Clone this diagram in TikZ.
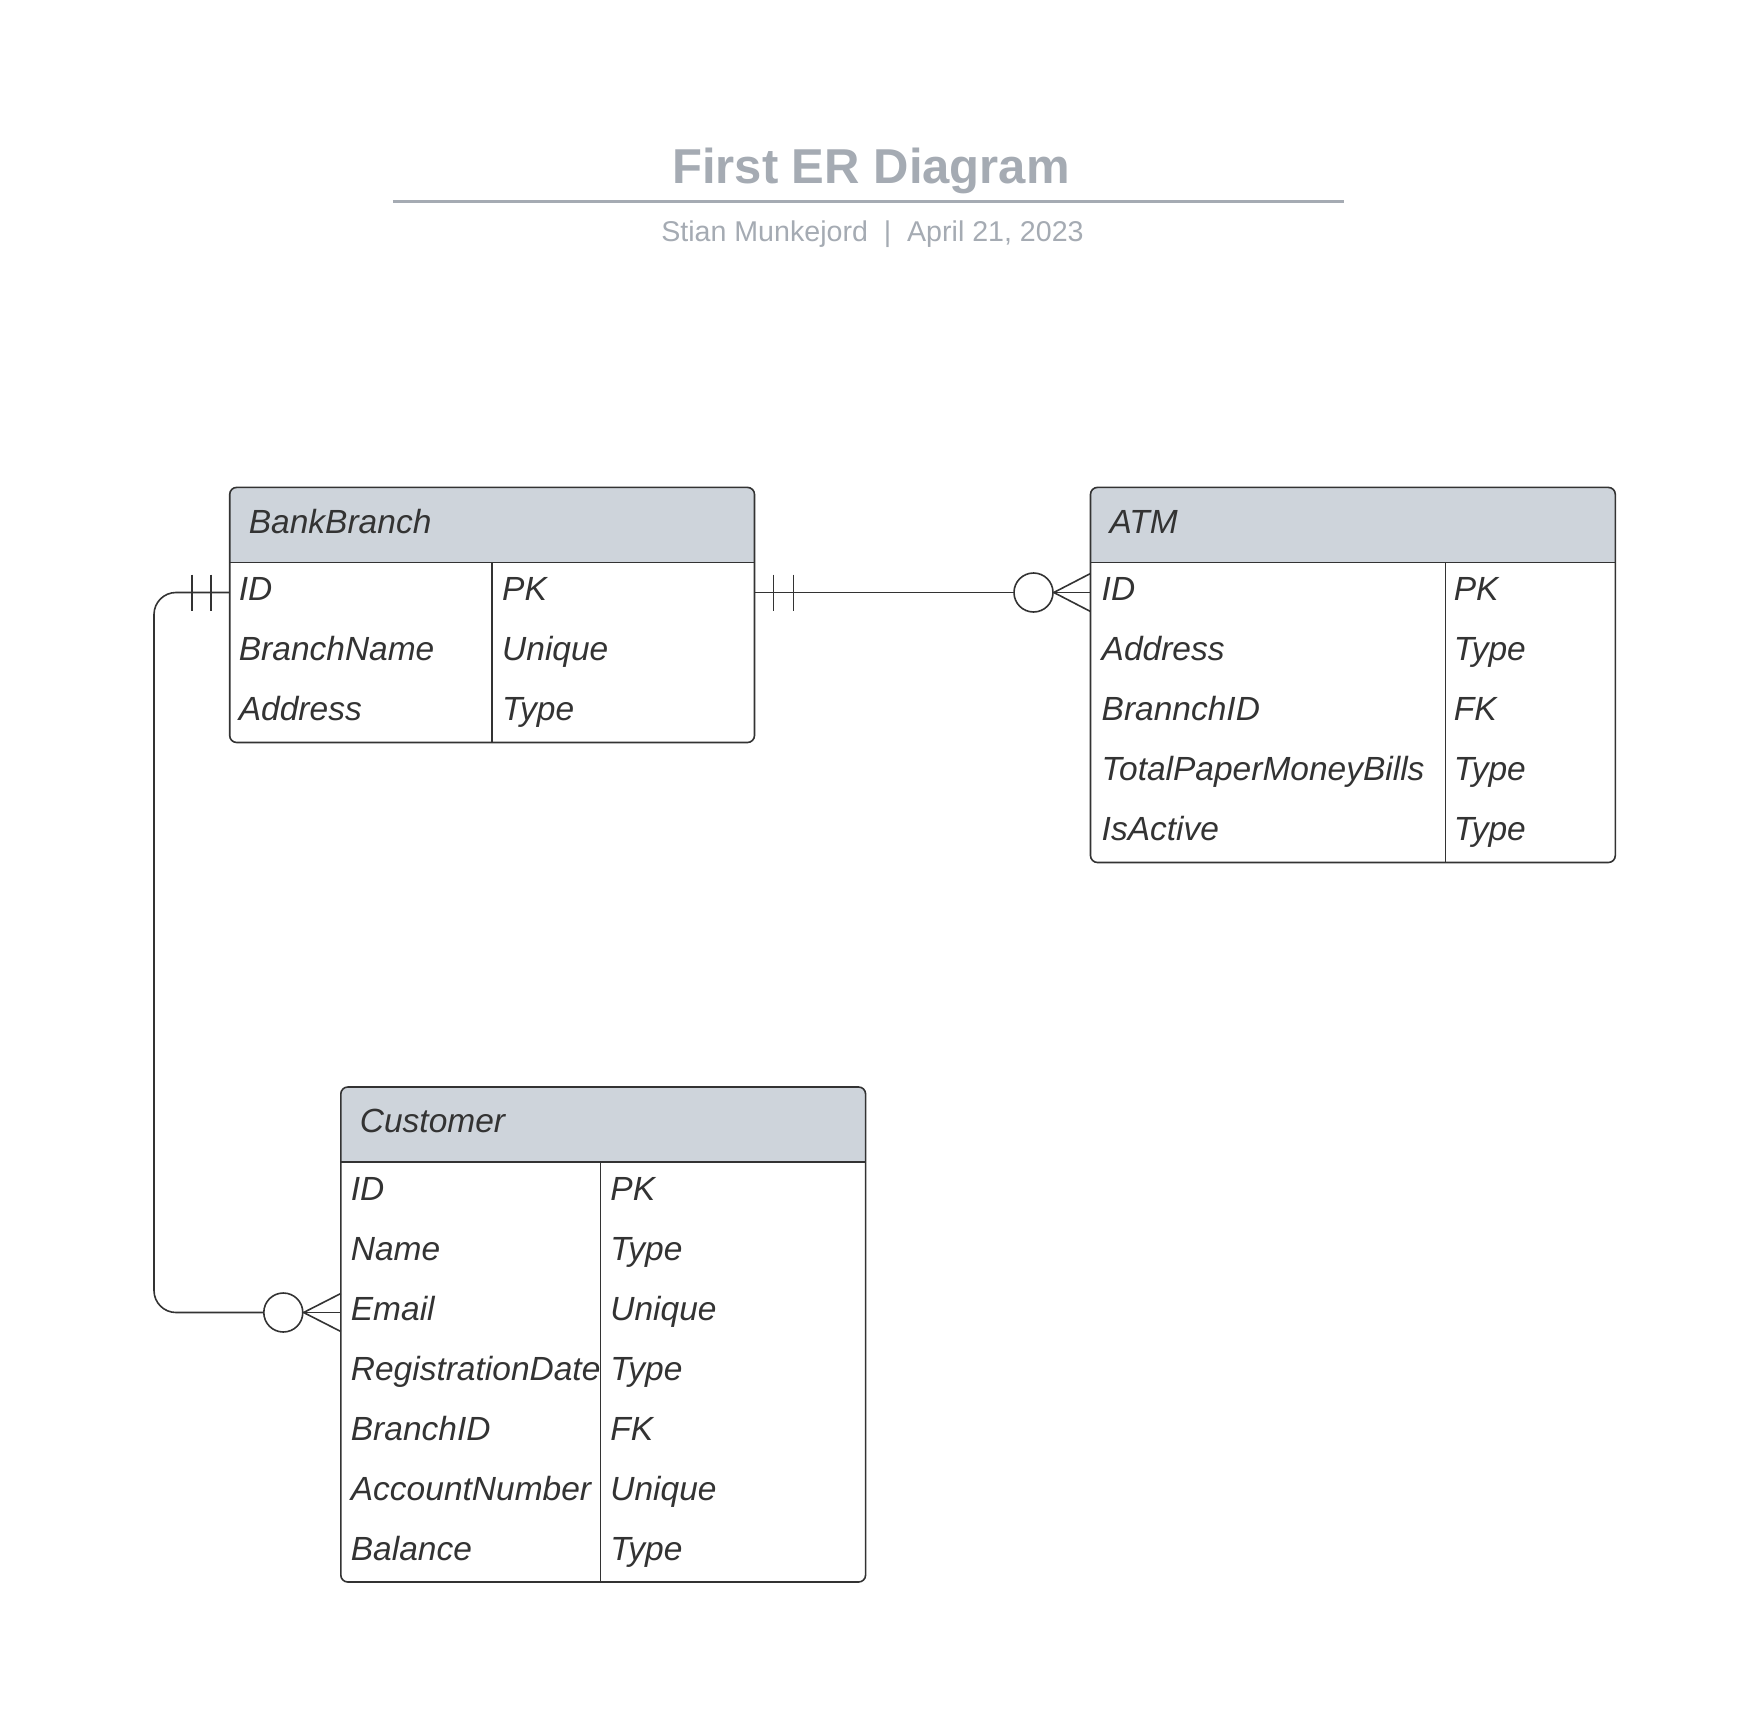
\documentclass[tikz,border=0pt]{standalone}
\usepackage{fontspec}
\setmainfont{Liberation Sans}
\usetikzlibrary{calc}
\definecolor{txtc}{HTML}{333333}
\definecolor{hdrc}{HTML}{CED4DB}
\definecolor{ttlc}{HTML}{A5ABB3}
\definecolor{lnc}{HTML}{333333}
\begin{document}
\begin{tikzpicture}[x=1pt,y=-1pt,
  tbl/.style={draw=lnc, line width=1.6pt, rounded corners=7pt, inner sep=0pt, outer sep=0pt, minimum width=524.8pt},
  tline/.style={draw=lnc, line width=1.6pt},
  conn/.style={draw=lnc, line width=1.6pt},
  hd/.style={anchor=base west, inner sep=0pt, text=txtc, font=\fontsize{33.5}{40}\selectfont\itshape},
  fld/.style={anchor=base west, inner sep=0pt, text=txtc, font=\fontsize{33.5}{40}\selectfont\itshape},
  hdrfill/.style={fill=hdrc}
]
\useasboundingbox[fill=white] (0,0) rectangle (1757,1731);

% Title
\node[anchor=base, inner sep=0pt, text=ttlc, font=\fontsize{49}{56}\selectfont\bfseries] (title) at (871,183.5) {First ER Diagram};
\draw[draw=ttlc, line width=3.4pt] (392.8,201.7) coordinate (tl1) -- (1344,201.7) coordinate (tl2);
\node[anchor=base, inner sep=0pt, text=ttlc, font=\fontsize{28.6}{34}\selectfont] (subtitle) at (872.5,242) {Stian Munkejord\ \ |\ \ April 21, 2023};

% BankBranch
\fill[hdrfill] (229.7,562.5) [rounded corners=7pt] -- (229.7,487.4) -- (754.5,487.4) [sharp corners] -- (754.5,562.5) -- cycle;
\node[tbl, minimum height=255.1pt, anchor=north west] (bb) at (229.7,487.4) {};
\draw[tline] (229.7,562.5) -- (754.5,562.5);
\draw[tline] (491.9,562.5) -- (491.9,742.5);
\node[hd] (bbh) at (248.7,533) {BankBranch};
\node[fld] (bb1a) at (238.7,600.5) {ID};
\node[fld] (bb1b) at (502,600.5) {PK};
\node[fld] (bb2a) at (238.7,660.5) {BranchName};
\node[fld] (bb2b) at (502,660.5) {Unique};
\node[fld] (bb3a) at (238.7,720.5) {Address};
\node[fld] (bb3b) at (502,720.5) {Type};

% ATM
\fill[hdrfill] (1090.5,562.5) [rounded corners=7pt] -- (1090.5,487.4) -- (1615.3,487.4) [sharp corners] -- (1615.3,562.5) -- cycle;
\node[tbl, minimum height=375.1pt, anchor=north west] (atm) at (1090.5,487.4) {};
\draw[tline] (1090.5,562.5) -- (1615.3,562.5);
\draw[tline] (1445.4,562.5) -- (1445.4,862.5);
\node[hd] (atmh) at (1109.3,533) {ATM};
\node[fld] (atm1a) at (1101.5,600.5) {ID};
\node[fld] (atm1b) at (1453.6,600.5) {PK};
\node[fld] (atm2a) at (1101.5,660.5) {Address};
\node[fld] (atm2b) at (1453.6,660.5) {Type};
\node[fld] (atm3a) at (1101.5,720.5) {BrannchID};
\node[fld] (atm3b) at (1453.6,720.5) {FK};
\node[fld] (atm4a) at (1101.5,780.5) {TotalPaperMoneyBills};
\node[fld] (atm4b) at (1453.6,780.5) {Type};
\node[fld] (atm5a) at (1101.5,840.5) {IsActive};
\node[fld] (atm5b) at (1453.6,840.5) {Type};

% Customer
\fill[hdrfill] (340.8,1162) [rounded corners=7pt] -- (340.8,1087) -- (865.6,1087) [sharp corners] -- (865.6,1162) -- cycle;
\node[tbl, minimum height=495pt, anchor=north west] (cust) at (340.8,1087) {};
\draw[tline] (340.8,1162) -- (865.6,1162);
\draw[tline] (600.6,1162) -- (600.6,1582);
\node[hd] (custh) at (359.7,1132.5) {Customer};
\node[fld] (c1a) at (350.7,1200) {ID};
\node[fld] (c1b) at (610.2,1200) {PK};
\node[fld] (c2a) at (350.7,1260) {Name};
\node[fld] (c2b) at (610.2,1260) {Type};
\node[fld] (c3a) at (350.7,1320) {Email};
\node[fld] (c3b) at (610.2,1320) {Unique};
\node[fld] (c4a) at (350.7,1380) {RegistrationDate};
\node[fld] (c4b) at (610.2,1380) {Type};
\node[fld] (c5a) at (350.7,1440) {BranchID};
\node[fld] (c5b) at (610.2,1440) {FK};
\node[fld] (c6a) at (350.7,1500) {AccountNumber};
\node[fld] (c6b) at (610.2,1500) {Unique};
\node[fld] (c7a) at (350.7,1560) {Balance};
\node[fld] (c7b) at (610.2,1560) {Type};

% row reference coordinates
\coordinate (rowA) at (0,592.5);
\coordinate (rowC) at (0,1312.5);
\coordinate (bbR) at (bb.east |- rowA);
\coordinate (bbL) at (bb.west |- rowA);
\coordinate (atmL) at (atm.west |- rowA);
\coordinate (custL) at (cust.west |- rowC);

% Connector BankBranch -> ATM
\node[circle, draw=lnc, line width=1.6pt, fill=white, minimum size=39pt, inner sep=0pt] (circA) at ($(atmL)+(-57,0)$) {};
\draw[conn] (bbR) -- (circA.west);
\draw[conn] ($(bbR)+(19,-18)$) -- ++(0,36);
\draw[conn] ($(bbR)+(39,-18)$) -- ++(0,36);
\draw[conn] (circA.east) -- (atmL);
\draw[conn] ($(atmL)+(0,-19)$) -- (circA.east) -- ($(atmL)+(0,19)$);

% Connector BankBranch -> Customer
\node[circle, draw=lnc, line width=1.6pt, fill=white, minimum size=39pt, inner sep=0pt] (circC) at ($(custL)+(-57.5,0)$) {};
\coordinate (bend1) at (154,592.5);
\coordinate (bend2) at (154,1312.5);
\draw[conn, rounded corners=22pt] (bbL) -- (bend1) -- (bend2) -- (circC.west);
\draw[conn] ($(bbL)+(-19,-18)$) -- ++(0,36);
\draw[conn] ($(bbL)+(-38,-18)$) -- ++(0,36);
\draw[conn] (circC.east) -- (custL);
\draw[conn] ($(custL)+(0,-19)$) -- (circC.east) -- ($(custL)+(0,19)$);
\end{tikzpicture}
\end{document}
